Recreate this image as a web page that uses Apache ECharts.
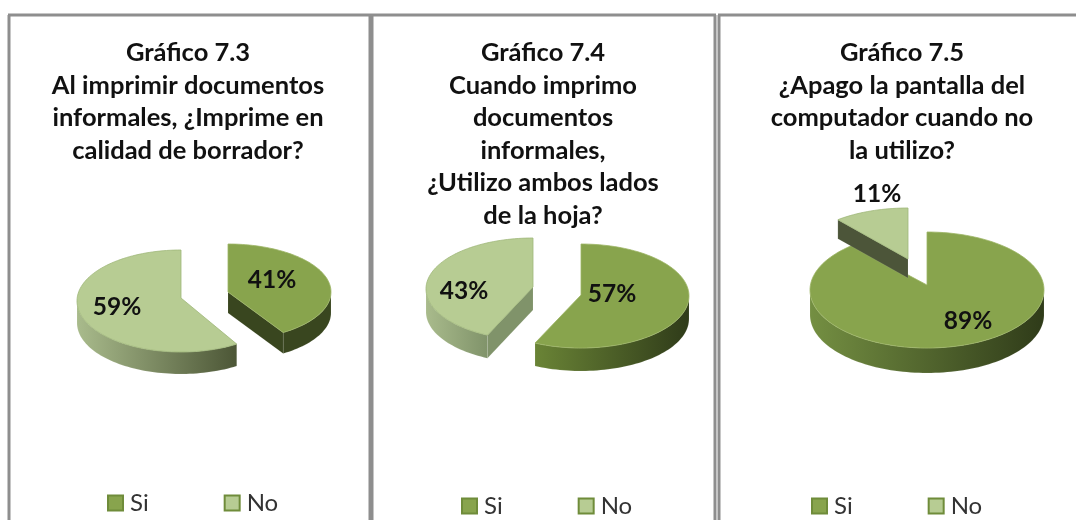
<!DOCTYPE html>
<html><head><meta charset="utf-8">
<style>html,body{margin:0;padding:0;background:#fff}#c{width:1076px;height:520px}</style>
<script src="https://cdn.jsdelivr.net/npm/echarts@6/dist/echarts.min.js"></script>
</head><body><div id="c"></div>
<script>
var categories = ['Si', 'No'];
var siValues = [41, 57, 89];
var noValues = [59, 43, 11];
var chartTitles = [
  'Gráfico 7.3\nAl imprimir documentos\ninformales, ¿Imprime en\ncalidad de borrador?',
  'Gráfico 7.4\nCuando imprimo\ndocumentos\ninformales,\n¿Utilizo ambos lados\nde la hoja?',
  'Gráfico 7.5\n¿Apago la pantalla del\ncomputador cuando no\nla utilizo?'
];

var FONT = 'Lato, Carlito, sans-serif';
var SI = {top: '#88a44d', edge: '#9db566', cut: '#39461f'};
var NO = {top: '#b7cc93', edge: '#9fb87a'};
var titleX = [183, 538, 897];
var legendX = [107, 461, 811];
var legendY = [491, 494, 494];
// slice geometry per pie: [Si, No]; ay shifts the apex above the ellipse centre
var layout = [
  [{cx:228, cy:292, ay:0,  a:103, b:48, d:21, lx:44,  ly:-12, cut:SI.cut, wall:[['#39461f','#39461f']]},
   {cx:181, cy:301, ay:-3, a:104, b:51, d:22, lx:-64, ly:6,   wall:[['#a9bb8c','#4c5636']]}],
  [{cx:581, cy:296, ay:-1, a:108, b:52, d:23, lx:31,  ly:-2,  wall:[['#6a8436','#2f3b19']]},
   {cx:533, cy:289, ay:-2, a:107, b:51, d:23, lx:-69, ly:2,   cut:'#80936a', wall:[['#a9bb8c','#80936a']]}],
  [{cx:927, cy:290, ay:-5, a:117, b:58, d:25, lx:41,  ly:31,  wall:[['#748f42','#2f3b19']]},
   {cx:908, cy:259, ay:0,  a:110, b:51, d:19, lx:-31, ly:-65, cut:'#4c5539', wall:[]}]
];

function ellipse(g, t) {
  var r = t * Math.PI / 180;
  return [g.cx + g.a * Math.sin(r), g.cy - g.b * Math.cos(r)];
}
function arcPts(g, from, to, dy) {
  var pts = [], n = Math.max(2, Math.ceil(Math.abs(to - from) / 2));
  for (var i = 0; i <= n; i++) {
    var p = ellipse(g, from + (to - from) * i / n);
    pts.push([p[0], p[1] + (dy || 0)]);
  }
  return pts;
}
function hGrad(c) {
  return {type:'linear', x:0, y:0, x2:1, y2:0, colorStops:[{offset:0,color:c[0]},{offset:1,color:c[1]}]};
}
function sliceRender(pie, idx, palette) {
  return function (params, api) {
    var value = api.value(0);
    var start = idx === 0 ? 0 : siValues[pie] * 3.6;
    var end = start + value * 3.6;
    var g = layout[pie][idx];
    var apex = [g.cx, g.cy + g.ay];
    var kids = [];
    var ws = Math.max(start, 90), we = Math.min(end, 270);
    if (we > ws && g.wall.length) {
      var up = arcPts(g, ws, we, 0), dn = arcPts(g, we, ws, g.d);
      kids.push({type:'polygon', shape:{points:up.concat(dn)},
        style:{fill: hGrad(g.wall[0]), stroke:'rgba(255,255,255,0.18)', lineWidth:0.6}});
    }
    if (g.cut) {
      var cutT = idx === 0 ? end : start;
      var tip = ellipse(g, cutT);
      kids.push({type:'polygon', shape:{points:[apex,tip,[tip[0],tip[1]+g.d],[apex[0],apex[1]+g.d]]},
        style:{fill:g.cut, stroke:'rgba(255,255,255,0.15)', lineWidth:0.6}});
    }
    kids.push({type:'polygon', shape:{points:[apex].concat(arcPts(g,start,end,0))},
      style:{fill:palette.top, stroke:palette.edge, lineWidth:0.8}});
    kids.push({type:'text', style:{text:value+'%', x:g.cx+g.lx, y:g.cy+g.ly, fill:'#111',
      font:'bold 24.5px '+FONT, align:'center', verticalAlign:'middle', textAlign:'center', textVerticalAlign:'middle'}});
    return {type:'group', children:kids};
  };
}

var series = [];
[siValues, noValues].forEach(function (vals, idx) {
  vals.forEach(function (v, pie) {
    series.push({
      type:'custom', coordinateSystem:'none', name:categories[idx],
      itemStyle:{color: idx===0 ? SI.top : NO.top},
      data:[[v]], renderItem: sliceRender(pie, idx, idx===0 ? SI : NO),
      silent:true, animation:false
    });
  });
});

var BORDER = '#8e8e8e';
function hline(x1,x2,y){return {type:'line',z:-1,shape:{x1:x1,y1:y,x2:x2,y2:y},style:{stroke:BORDER,lineWidth:3}};}
function vline(x,y1,y2,w){return {type:'line',z:-1,shape:{x1:x,y1:y1,x2:x,y2:y2},style:{stroke:BORDER,lineWidth:w||3}};}

var option = {
  backgroundColor:'#fff', animation:false,
  title: chartTitles.map(function (t,i) {
    return {text:t, left:titleX[i], top:32, textAlign:'center',
      textStyle:{fontFamily:FONT, fontSize:25.5, fontWeight:'bold', color:'#111', lineHeight:32.5}};
  }),
  legend: legendX.map(function (x,i) {
    return {data:categories, left:x, top:legendY[i], orient:'horizontal', itemWidth:15, itemHeight:15,
      itemGap:75, icon:'rect', selectedMode:false, padding:0,
      itemStyle:{borderColor:'#6f8c3a', borderWidth:2},
      textStyle:{fontFamily:FONT, fontSize:24, color:'#333', padding:[0,0,0,2]}};
  }),
  graphic: {elements:[
    hline(8,371,15), vline(9,15,520), vline(371,15,520,5),
    hline(371,716,15), vline(715,15,520),
    hline(718,1076,15), vline(719,15,520)
  ]},
  series: series
};
var chart = echarts.init(document.getElementById('c'), null, {renderer:'canvas'});
chart.setOption(option);
</script></body></html>
